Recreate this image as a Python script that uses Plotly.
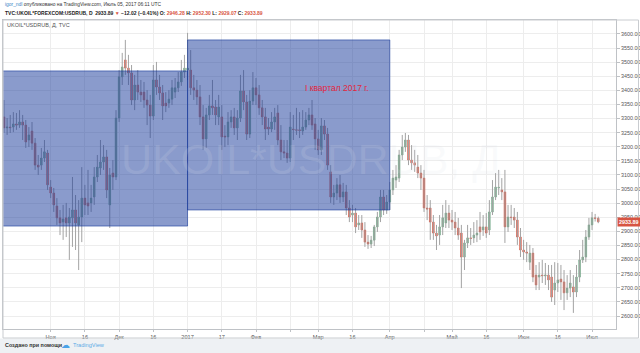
import plotly.graph_objects as go
import pandas as pd

# ---------------- data (UKOIL*USDRUB daily) ----------------
open_oct = [3306, 3267, 3270, 3270, 3281, 3277, 3288, 3277, 3224, 3256, 3213, 3135, 3135, 3160, 3178]
high_oct = [3366, 3302, 3313, 3323, 3320, 3330, 3313, 3295, 3270, 3288, 3231, 3171, 3196, 3224, 3189]
low_oct = [3249, 3242, 3249, 3252, 3260, 3267, 3224, 3196, 3199, 3189, 3118, 3100, 3118, 3146, 3047]
close_oct = [3267, 3270, 3268, 3281, 3277, 3288, 3277, 3217, 3242, 3213, 3135, 3128, 3160, 3182, 3065]

open_nov = [3057, 3036, 2990, 2948, 2933, 2948, 2930, 2948, 2976, 2923, 2951, 3018, 3001, 3001, 3022, 3093, 3125, 3146, 3164, 2994, 3107, 3093]
high_nov = [3082, 3054, 3018, 2976, 2994, 3001, 2983, 3093, 3029, 3011, 3128, 3065, 3118, 3065, 3128, 3171, 3224, 3206, 3189, 3125, 3153, 3330]
low_nov = [3018, 2969, 2923, 2887, 2870, 2880, 2799, 2845, 2834, 2763, 2862, 2958, 2958, 2969, 2994, 3075, 3100, 3118, 3018, 2912, 3047, 3082]
close_nov = [3036, 2994, 2948, 2930, 2944, 2930, 2951, 2976, 2930, 2951, 3018, 2994, 2990, 3018, 3093, 3128, 3146, 3164, 3047, 3100, 3093, 3302]

open_dec = [3302, 3448, 3508, 3479, 3462, 3366, 3419, 3394, 3394, 3366, 3348, 3309, 3437, 3412, 3391, 3355, 3355, 3369, 3394, 3409, 3430, 3465]
high_dec = [3472, 3533, 3579, 3526, 3490, 3455, 3472, 3437, 3430, 3401, 3384, 3490, 3501, 3455, 3419, 3394, 3401, 3437, 3444, 3465, 3508, 3526]
low_dec = [3288, 3419, 3455, 3419, 3348, 3330, 3366, 3359, 3338, 3277, 3231, 3295, 3384, 3366, 3295, 3323, 3338, 3348, 3373, 3394, 3416, 3444]
close_dec = [3448, 3483, 3479, 3462, 3366, 3419, 3394, 3384, 3366, 3348, 3309, 3437, 3412, 3391, 3345, 3345, 3369, 3409, 3409, 3430, 3465, 3479]

open_jan = [3472, 3472, 3409, 3401, 3377, 3306, 3228, 3313, 3345, 3341, 3306, 3306, 3238, 3235, 3288, 3306, 3267, 3302, 3398, 3359, 3245, 3362]
high_jan = [3604, 3543, 3455, 3437, 3419, 3348, 3338, 3384, 3437, 3366, 3384, 3348, 3277, 3323, 3330, 3338, 3330, 3455, 3472, 3384, 3401, 3465]
low_jan = [3437, 3384, 3366, 3348, 3277, 3189, 3196, 3295, 3313, 3277, 3277, 3189, 3199, 3206, 3267, 3242, 3224, 3288, 3330, 3224, 3231, 3348]
close_jan = [3479, 3409, 3401, 3377, 3306, 3228, 3313, 3345, 3338, 3313, 3341, 3235, 3235, 3288, 3306, 3267, 3302, 3398, 3359, 3245, 3362, 3409]

open_feb = [3409, 3384, 3338, 3306, 3270, 3263, 3288, 3320, 3224, 3182, 3178, 3160, 3263, 3260, 3260, 3256, 3270, 3295, 3313, 3281]
high_feb = [3444, 3419, 3366, 3338, 3302, 3323, 3338, 3348, 3277, 3224, 3224, 3323, 3313, 3338, 3323, 3330, 3323, 3338, 3366, 3302]
low_feb = [3348, 3313, 3277, 3224, 3242, 3252, 3260, 3206, 3153, 3160, 3143, 3146, 3224, 3242, 3231, 3242, 3260, 3277, 3260, 3189]
close_feb = [3384, 3338, 3306, 3263, 3263, 3288, 3306, 3224, 3182, 3178, 3160, 3270, 3261, 3259, 3258, 3270, 3295, 3313, 3277, 3228]

open_mar = [3228, 3189, 3274, 3245, 3111, 3022, 3036, 3065, 3022, 3040, 2983, 2958, 2965, 2923, 2930, 2905, 2862, 2855, 2869, 2916, 2951, 3022, 2976]
high_mar = [3260, 3302, 3295, 3267, 3135, 3065, 3089, 3100, 3072, 3065, 3011, 2994, 2983, 2958, 2958, 2933, 2887, 2884, 2923, 2969, 3047, 3047, 3029]
low_mar = [3171, 3171, 3224, 3118, 3001, 2994, 3011, 3001, 3004, 2958, 2933, 2933, 2894, 2905, 2877, 2845, 2838, 2841, 2848, 2898, 2933, 2958, 2962]
close_mar = [3189, 3274, 3245, 3135, 3022, 3036, 3065, 3022, 3040, 2983, 2951, 2965, 2916, 2930, 2905, 2862, 2855, 2869, 2916, 2951, 3022, 2976, 3004]

open_apr = [3004, 3047, 3082, 3089, 3171, 3199, 3224, 3153, 3143, 3128, 3107, 3089, 2983, 2983, 2933, 2894, 2887, 2916, 2930, 2965]
high_apr = [3075, 3118, 3135, 3189, 3242, 3249, 3242, 3206, 3189, 3171, 3135, 3118, 3029, 3011, 2958, 2923, 2958, 2994, 3011, 2994]
low_apr = [2976, 3029, 3054, 3075, 3153, 3182, 3135, 3118, 3111, 3089, 3047, 2969, 2940, 2870, 2870, 2834, 2852, 2887, 2912, 2912]
close_apr = [3047, 3089, 3093, 3171, 3199, 3224, 3153, 3143, 3135, 3107, 3089, 2983, 2979, 2933, 2894, 2884, 2916, 2948, 2965, 2940]

open_may = [2940, 2933, 2912, 2894, 2809, 2859, 2877, 2877, 2887, 2916, 2905, 2916, 2905, 2969, 3022, 3054, 3047, 3040, 2916, 2951, 2951, 2940, 2880]
high_may = [2976, 2969, 2948, 2923, 2870, 2923, 2912, 2933, 2940, 2969, 2958, 2965, 3011, 3082, 3107, 3118, 3089, 3118, 2994, 2994, 2983, 2969, 2912]
low_may = [2905, 2887, 2870, 2699, 2763, 2841, 2852, 2859, 2862, 2870, 2884, 2877, 2887, 2958, 3011, 3029, 3011, 2859, 2898, 2923, 2912, 2852, 2809]
close_may = [2933, 2912, 2887, 2809, 2859, 2877, 2875, 2887, 2894, 2898, 2916, 2894, 2969, 3022, 3057, 3056, 3040, 2916, 2951, 2949, 2940, 2880, 2834]

open_jun = [2834, 2827, 2791, 2823, 2745, 2738, 2745, 2742, 2745, 2738, 2692, 2717, 2731, 2721, 2682, 2699, 2703, 2685, 2738, 2799, 2809, 2880]
high_jun = [2870, 2862, 2852, 2841, 2781, 2791, 2799, 2788, 2781, 2781, 2791, 2788, 2781, 2763, 2745, 2763, 2745, 2781, 2834, 2870, 2905, 2948]
low_jun = [2799, 2791, 2763, 2720, 2692, 2692, 2717, 2710, 2692, 2650, 2639, 2685, 2657, 2621, 2657, 2667, 2611, 2667, 2720, 2788, 2791, 2870]
close_jun = [2827, 2823, 2823, 2738, 2710, 2745, 2743, 2745, 2728, 2667, 2717, 2728, 2721, 2682, 2699, 2717, 2685, 2738, 2799, 2809, 2880, 2923]

open_jul = [2923, 2948, 2946.28]
high_jul = [2969, 2962, 2952.30]
low_jul = [2905, 2935, 2929.07]
close_jul = [2948, 2945.91, 2933.89]

# quarter boxes (high / low of the drawn rectangles)
q4_2016 = dict(start="2016-10-03", end="2017-01-02", top=3469, bottom=2919)
q1_2017 = dict(start="2017-01-02", end="2017-04-03", top=3579, bottom=2976)
q1_label = "I квартал 2017 г."

# axis ticks
x_tick_dates = ["2016-11-01", "2016-11-16", "2016-12-01", "2016-12-16", "2017-01-02", "2017-01-17",
                "2017-02-01", "2017-02-16", "2017-03-01", "2017-03-16", "2017-04-03", "2017-04-18",
                "2017-05-01", "2017-05-16", "2017-06-01", "2017-06-16", "2017-07-03"]
x_tick_text = ["Ноя", "16", "Дек", "16", "2017", "17", "Фев", "", "Мар", "16", "Апр", "",
               "Май", "16", "Июн", "16", "Июл"]
y_ticks = [2600, 2650, 2700, 2750, 2800, 2850, 2900, 2950, 3000, 3050, 3100, 3150, 3200,
           3250, 3300, 3350, 3400, 3450, 3500, 3550, 3600]

last_price = 2933.89

# ---------------- assemble ----------------
OPEN = open_oct + open_nov + open_dec + open_jan + open_feb + open_mar + open_apr + open_may + open_jun + open_jul
HIGH = high_oct + high_nov + high_dec + high_jan + high_feb + high_mar + high_apr + high_may + high_jun + high_jul
LOW = low_oct + low_nov + low_dec + low_jan + low_feb + low_mar + low_apr + low_may + low_jun + low_jul
CLOSE = close_oct + close_nov + close_dec + close_jan + close_feb + close_mar + close_apr + close_may + close_jun + close_jul

dates = pd.bdate_range("2016-10-11", "2017-07-05")
n = min(len(dates), len(OPEN), len(HIGH), len(LOW), len(CLOSE))
dates = dates[:n]
body_top = [max(o, c) for o, c in zip(OPEN, CLOSE)][:n]
body_bot = [min(o, c) for o, c in zip(OPEN, CLOSE)][:n]

UP = "#6ba583"
DN = "#d75442"
WICK = "#a3a3a3"
FONT = "Liberation Sans, Arial, sans-serif"
GRID = "#ededed"
AX = "#bfc2c6"

fig = go.Figure()
fig.add_trace(go.Ohlc(
    x=dates, open=OPEN[:n], high=HIGH[:n], low=LOW[:n], close=CLOSE[:n], tickwidth=0,
    increasing=dict(line=dict(color=WICK, width=1)),
    decreasing=dict(line=dict(color=WICK, width=1)),
    hoverinfo="skip", showlegend=False))
fig.add_trace(go.Candlestick(
    x=dates, open=OPEN[:n], high=body_top, low=body_bot, close=CLOSE[:n],
    increasing=dict(line=dict(color=UP, width=0.6), fillcolor=UP),
    decreasing=dict(line=dict(color=DN, width=0.6), fillcolor=DN),
    whiskerwidth=0, showlegend=False))

# plot area: x 3..616 px, y 20..329 px
L_PX, R_PX, T_PX, B_PX = 3, 616, 20, 329
PW, PH = R_PX - L_PX, B_PX - T_PX


def px(xp):
    return (xp - L_PX) / PW


def py(yp):
    return (B_PX - yp) / PH


shapes = []
for q in (q4_2016, q1_2017):
    shapes.append(dict(type="rect", xref="x", yref="y", x0=q["start"], x1=q["end"],
                       y0=q["bottom"], y1=q["top"], fillcolor="rgba(21,56,153,0.5)",
                       line=dict(color="rgba(21,56,153,0.6)", width=1), layer="above"))
# outer frame incl. price / time scales
shapes.append(dict(type="rect", xref="paper", yref="paper", x0=px(3), x1=px(638.5),
                   y0=py(338), y1=py(20), line=dict(color="#c9ccd0", width=1), layer="above"))
# footer band
shapes.append(dict(type="rect", xref="paper", yref="paper", x0=px(0), x1=px(641),
                   y0=py(354), y1=py(338.5), fillcolor="#eef1f4", line=dict(width=0), layer="below"))

annotations = [
    dict(xref="paper", yref="paper", x=px(3), y=py(4.5), xanchor="left", yanchor="middle",
         text="<span style='color:#3d85c6'>igor_ndl</span> опубликовано на TradingView.com, Июль 05, 2017 06:11 UTC",
         showarrow=False, font=dict(family=FONT, size=4.9, color="#333333")),
    dict(xref="paper", yref="paper", x=px(3), y=py(12.5), xanchor="left", yanchor="middle",
         text="<b>TVC:UKOIL*FOREXCOM:USDRUB, D  2933.89 <span style='color:#d75442'>▼</span> −12.02 (−0.41%) "
              "O: <span style='color:#d75442'>2946.28</span> H: <span style='color:#d75442'>2952.30</span> "
              "L: <span style='color:#d75442'>2929.07</span> C: <span style='color:#d75442'>2933.89</span></b>",
         showarrow=False, font=dict(family=FONT, size=5.0, color="#222222")),
    dict(xref="paper", yref="paper", x=px(5), y=py(25.5), xanchor="left", yanchor="middle",
         text="UKOIL*USDRUB, Д, TVC", showarrow=False, font=dict(family=FONT, size=5.5, color="#555555")),
    dict(xref="paper", yref="paper", x=px(311), y=py(159), xanchor="center", yanchor="middle",
         text="UKOIL*USDRUB, Д", showarrow=False,
         font=dict(family=FONT, size=43, color="rgba(220,224,234,0.16)")),
    dict(xref="x", yref="y", x="2017-03-09", y=3408, xanchor="center", yanchor="middle",
         text=q1_label, showarrow=False, font=dict(family=FONT, size=8.5, color="#e3263d")),
    dict(xref="paper", yref="y", x=1, y=last_price, xanchor="left", yanchor="middle", xshift=1,
         text="<b>2933.89</b>", showarrow=False, bgcolor=DN, borderpad=1,
         font=dict(family=FONT, size=5.4, color="white")),
    dict(xref="paper", yref="paper", x=px(3), y=py(345), xanchor="left", yanchor="middle",
         text="<b>Создано при помощи</b>", showarrow=False,
         font=dict(family=FONT, size=5.4, color="#333333")),
    dict(xref="paper", yref="paper", x=px(65), y=py(345), xanchor="center", yanchor="middle",
         text="☁", showarrow=False, font=dict(family="DejaVu Sans", size=9, color="#4aa3e8")),
    dict(xref="paper", yref="paper", x=px(71), y=py(345), xanchor="left", yanchor="middle",
         text="TradingView", showarrow=False, font=dict(family=FONT, size=5.6, color="#5aaae6")),
]

fig.update_layout(
    width=640, height=353,
    margin=dict(l=L_PX, r=640 - R_PX, t=T_PX, b=353 - B_PX, autoexpand=False),
    paper_bgcolor="white", plot_bgcolor="white",
    showlegend=False, boxgap=0.25,
    shapes=shapes, annotations=annotations,
    font=dict(family=FONT, size=6, color="#555555"),
    xaxis=dict(
        type="date", rangeslider=dict(visible=False),
        rangebreaks=[dict(bounds=["sat", "mon"])],
        range=["2016-10-10 16:20", "2017-07-12 16:48"],
        tickmode="array", tickvals=x_tick_dates, ticktext=x_tick_text,
        showgrid=True, gridcolor=GRID, gridwidth=1,
        ticks="outside", ticklen=2, tickcolor=AX,
        tickfont=dict(family=FONT, size=5.6, color="#555555"),
        showline=True, linecolor=AX, linewidth=1, mirror=True, zeroline=False,
    ),
    yaxis=dict(
        side="right", range=[2553.9, 3649.6],
        tickmode="array", tickvals=y_ticks, tickformat=".2f",
        showgrid=True, gridcolor=GRID, gridwidth=1,
        ticks="outside", ticklen=3, tickcolor=AX,
        tickfont=dict(family=FONT, size=5.4, color="#555555"),
        showline=True, linecolor=AX, linewidth=1, mirror=True, zeroline=False,
    ),
)

fig.write_html("out.html", config={"displayModeBar": False})
